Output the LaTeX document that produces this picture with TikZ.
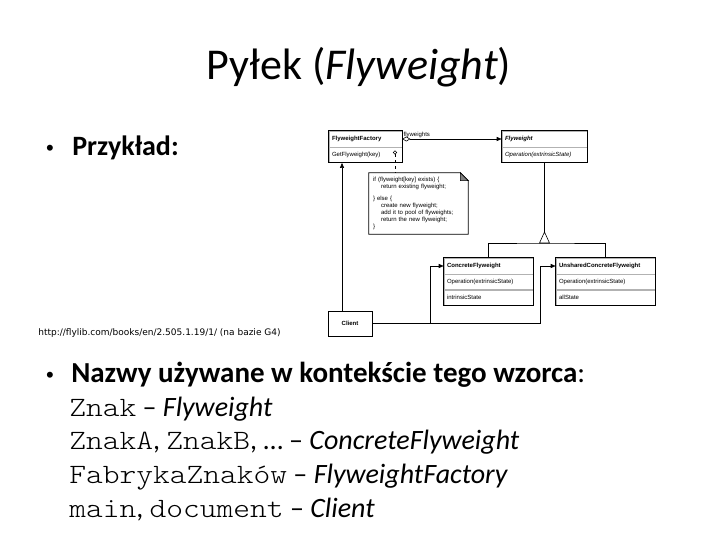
\documentclass[tikz,border=0pt]{standalone}
\usepackage{fontspec}
\setmainfont{Carlito}
\setmonofont{lmmonolt10-regular.otf}[FakeStretch=1.14]
\newfontfamily\umlfont{Liberation Sans}
\newfontfamily\srcfont{DejaVu Sans}
\usetikzlibrary{positioning,arrows.meta}

\begin{document}
\begin{tikzpicture}[x=1pt,y=-1pt,line width=0.6pt,
  txt/.style={anchor=base west, inner sep=0pt},
  bullet/.style={anchor=base, inner sep=0pt, font=\umlfont\fontsize{22}{26}\selectfont},
  row/.style={draw=gray!60, text width=#1, align=left, inner xsep=3pt, inner ysep=0pt, minimum height=15pt, font=\umlfont\fontsize{6}{7}\selectfont},
  head/.style={row=#1, minimum height=16pt, font=\umlfont\bfseries\fontsize{6}{7}\selectfont},
  frame/.style={line width=0.8pt},
  navi/.style={-{Triangle[length=5pt,width=4pt]}}]
\useasboundingbox (0,0) rectangle (720,540);
% slide text
\node[anchor=base, inner sep=0pt, font=\fontsize{44}{52}\selectfont] (title) at (359,80) {Pyłek (\textit{Flyweight})};
\node[bullet] (dot1) at (50,156) {•};
\node[txt, font=\fontsize{28}{34}\selectfont\bfseries] (example) at (72,156) {Przykład:};
\node[txt, font=\srcfont\fontsize{9}{11}\selectfont] (src) at (38,335) {http://flylib.com/books/en/2.505.1.19/1/ (na bazie G4)};
\node[bullet] (dot2) at (50,382) {•};
\node[txt, font=\fontsize{29}{34}\selectfont] (names) at (71,382) {\textbf{Nazwy używane w kontekście tego wzorca}:};
\node[txt, font=\fontsize{28}{34}\selectfont] (n1) at (69,416) {\texttt{Znak} – \textit{Flyweight}};
\node[txt, font=\fontsize{28}{34}\selectfont] (n2) at (69,449) {\texttt{ZnakA}, \texttt{ZnakB}, … – \textit{ConcreteFlyweight}};
\node[txt, font=\fontsize{28}{34}\selectfont] (n3) at (69,483) {\texttt{FabrykaZnaków} – \textit{FlyweightFactory}};
\node[txt, font=\fontsize{28}{34}\selectfont] (n4) at (69,517) {\texttt{main}, \texttt{document} – \textit{Client}};
% classes
\node[head=67pt] (facthead) at (365.5,139) {FlyweightFactory};
\node[row=67pt, below=0pt of facthead] (factop) {GetFlyweight(key)};
\node[head=79pt] (flyhead) at (544.5,139) {\textit{Flyweight}};
\node[row=79pt, below=0pt of flyhead] (flyop) {\textit{Operation(extrinsicState)}};
\node[head=83pt] (conchead) at (488.5,266) {ConcreteFlyweight};
\node[row=83pt, below=0pt of conchead] (concop) {Operation(extrinsicState)};
\node[row=83pt, below=0pt of concop] (concstate) {intrinsicState};
\node[head=93pt] (unshhead) at (605.5,266) {UnsharedConcreteFlyweight};
\node[row=93pt, below=0pt of unshhead] (unshop) {Operation(extrinsicState)};
\node[row=93pt, below=0pt of unshop] (unshstate) {allState};
\draw[frame] (facthead.north west) rectangle (factop.south east);
\draw[frame] (flyhead.north west) rectangle (flyop.south east);
\draw[frame] (conchead.north west) rectangle (concstate.south east);
\draw[frame] (unshhead.north west) rectangle (unshstate.south east);
\node[draw, frame, minimum width=44pt, minimum height=25pt, inner sep=0pt, font=\umlfont\bfseries\fontsize{6}{7}\selectfont] (client) at (350,323.5) {Client};
% note
\node[inner xsep=4pt, inner ysep=0pt, minimum width=99pt, minimum height=61pt, text width=91pt, align=left, font=\umlfont\fontsize{6}{7}\selectfont] (note) at (418.5,203.5) {if (flyweight[key] exists) \{\\
\hspace*{8pt}return existing flyweight;\\[5pt]
\} else \{\\
\hspace*{8pt}create new flyweight;\\
\hspace*{8pt}add it to pool of flyweights;\\
\hspace*{8pt}return the new flyweight;\\
\}};
\draw[frame] (note.south west) -- (note.north west) -- ([xshift=-8pt]note.north east) -- ([yshift=-8pt]note.north east) -- (note.south east) -- cycle;
\draw[fill=gray] ([xshift=-8pt]note.north east) -- ([xshift=-8pt,yshift=-8pt]note.north east) -- ([yshift=-8pt]note.north east) -- cycle;
\coordinate (hook) at (395,154.3);
\draw (395,152.5) circle (1.8pt);
\draw[dashed] (hook) -- (hook |- note.north);
% connectors
\draw[{Diamond[open,length=8pt,width=5pt]}-{Triangle[length=5pt,width=4pt]}] (facthead.east) -- (flyhead.west)
  node[pos=0, above right, inner sep=1pt, font=\umlfont\fontsize{6}{7}\selectfont] {flyweights};
\coordinate (gen) at (544.5,243);
\coordinate (genapex) at (544.5,232);
\draw (flyop.south) -- (genapex);
\draw (genapex) -- ++(5,11) -- ++(-10,0) -- cycle;
\draw (conchead.north) |- (gen) -| (unshhead.north);
\coordinate (cl) at ([xshift=-8pt]client.north);
\draw[navi] (cl) -- (cl |- factop.south);
\draw[navi] (client.east) -- ++(58,0) |- (conchead.west);
\draw[navi] (client.east) -- ++(168,0) |- (unshhead.west);
\end{tikzpicture}
\end{document}
